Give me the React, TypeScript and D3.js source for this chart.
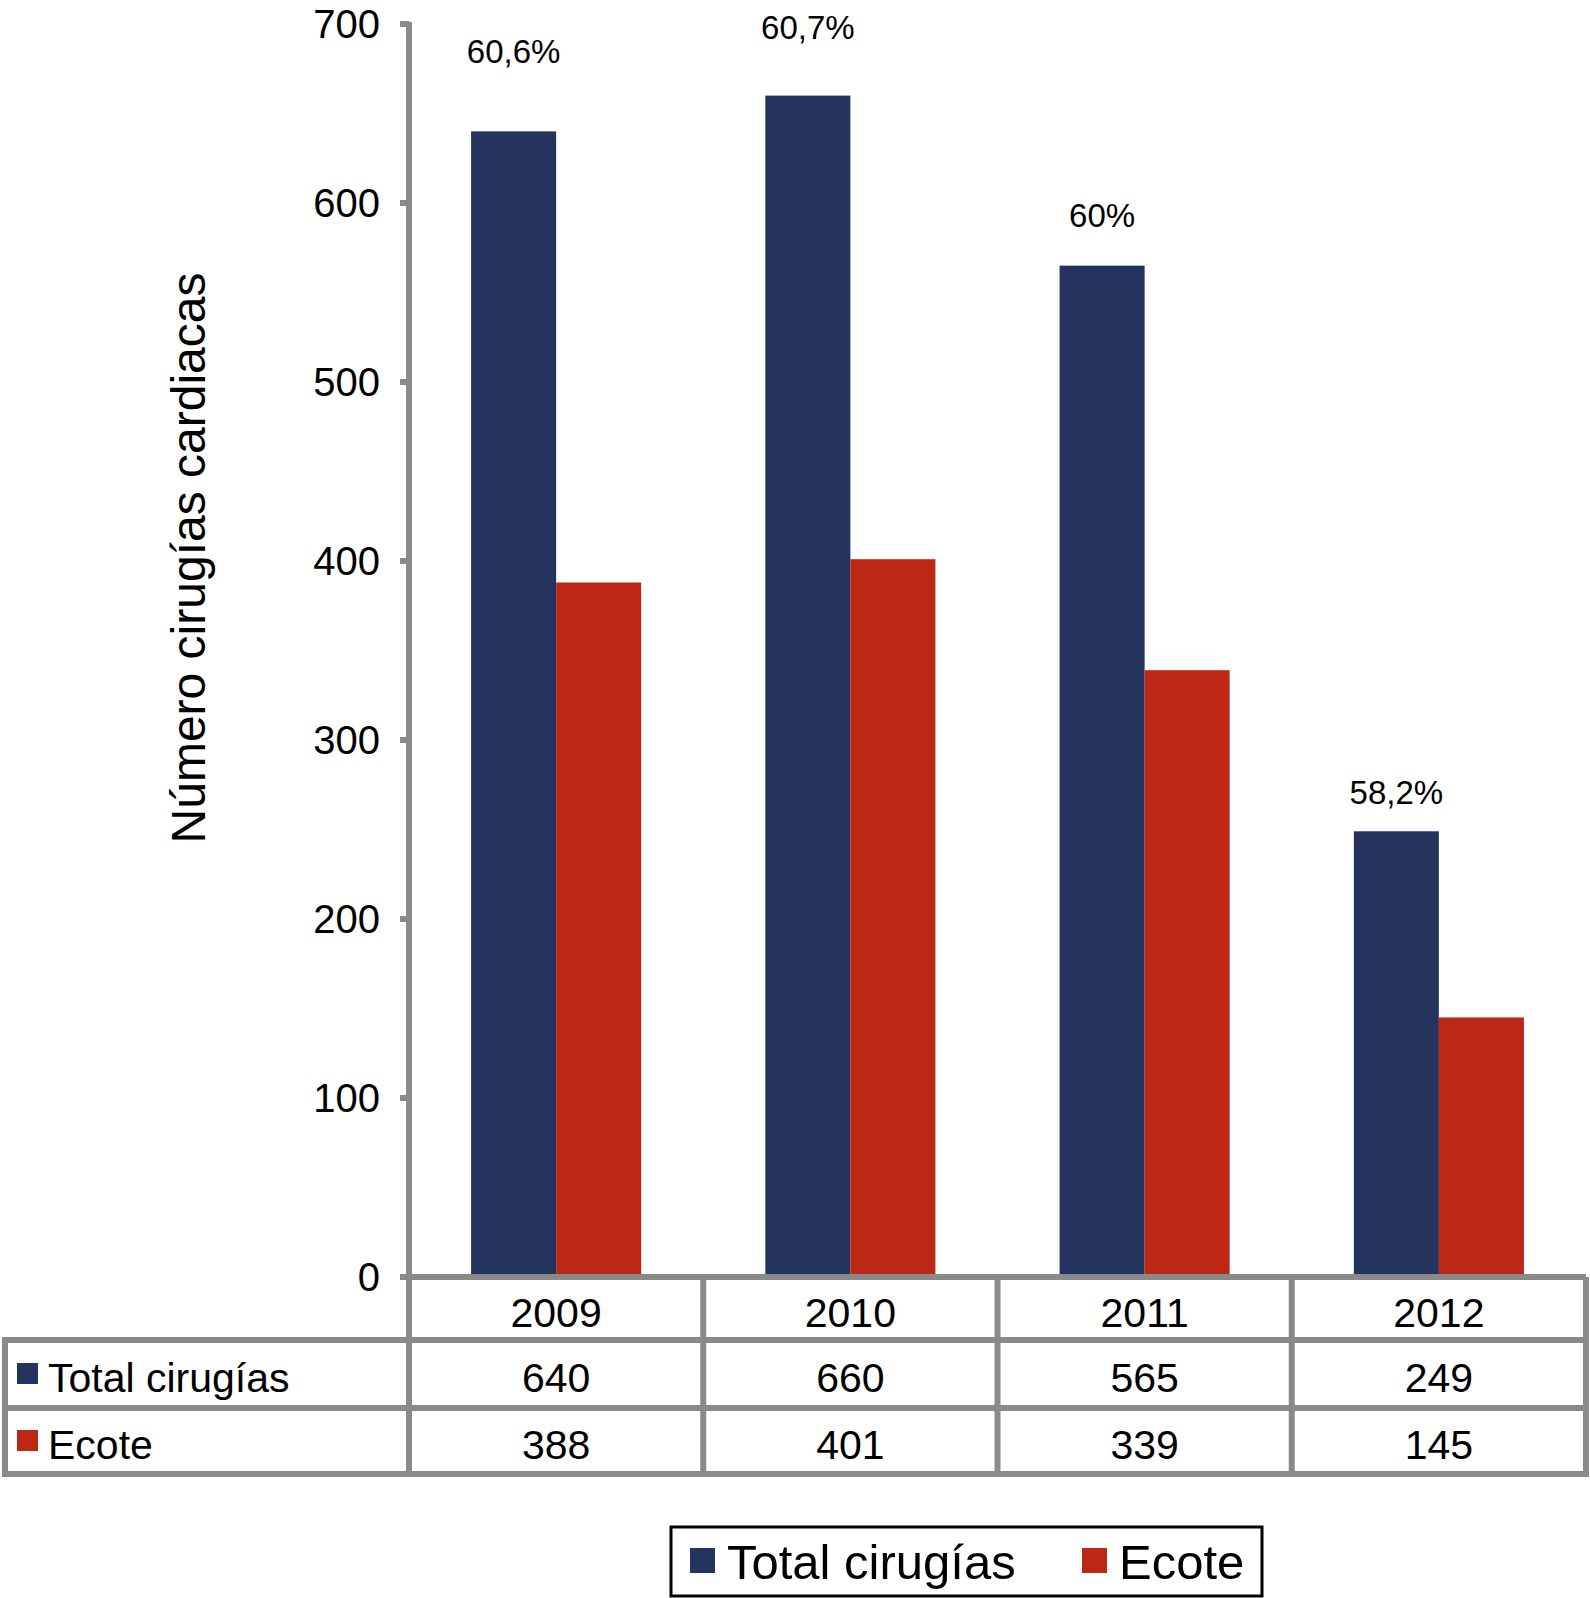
import * as d3 from 'd3';

const years = ['2009', '2010', '2011', '2012'];
const totalCirugias = [640, 660, 565, 249];
const ecote = [388, 401, 339, 145];
const pctLabels = ['60,6%', '60,7%', '60%', '58,2%'];
// value (on the y scale) where each percentage label sits
const pctLabelAt = [685, 698, 593, 271];
const yTicks = [0, 100, 200, 300, 400, 500, 600, 700];
const seriesKeys = ['total', 'ecote'];
const seriesNames = ['Total cirugías', 'Ecote'];

const W = 1590;
const H = 1598;
const axisX = 409;
const plotRight = 1586;
const tableLeft = 5;
const rowY = [1277, 1340, 1408, 1474];

const NAVY = '#24345e';
const RED = '#bd2814';
const GRID = '#8a8a8a';
const FONT = '"Liberation Sans", Arial, Helvetica, sans-serif';

const colors = [NAVY, RED];

export default function App() {
  const y = d3.scaleLinear().domain([0, 700]).range([1277, 24]);
  const x0 = d3.scaleBand().domain(years).range([axisX, plotRight]).padding(0);
  const x1 = d3
    .scaleBand()
    .domain(seriesKeys)
    .range([0, x0.step()])
    .paddingInner(0)
    .paddingOuter(0.73);

  const series = [totalCirugias, ecote];
  const colLines = years.map((yr) => x0(yr)!).concat([plotRight]);

  return (
    <div style={{ position: 'absolute', left: 0, top: 0 }}>
      <svg width={W} height={H} style={{ fontFamily: FONT, display: 'block' }}>
        <rect width={W} height={H} fill="#fff" />

        {/* bars */}
        {years.map((yr, i) => (
          <g key={yr} transform={`translate(${x0(yr)},0)`}>
            {seriesKeys.map((k, s) => (
              <rect
                key={k}
                x={x1(k)}
                y={y(series[s][i])}
                width={x1.bandwidth()}
                height={y(0) - y(series[s][i])}
                fill={colors[s]}
              />
            ))}
            <text
              x={x1('total')! + x1.bandwidth() / 2}
              y={y(pctLabelAt[i])}
              dy="0.36em"
              textAnchor="middle"
              fontSize={33}
              fill="#000"
            >
              {pctLabels[i]}
            </text>
          </g>
        ))}

        {/* y axis */}
        <line x1={axisX} x2={axisX} y1={y(700) - 2} y2={rowY[3]} stroke={GRID} strokeWidth={6} />
        {yTicks.map((t) => (
          <g key={t}>
            <line x1={axisX - 9} x2={axisX} y1={y(t)} y2={y(t)} stroke={GRID} strokeWidth={6} />
            <text x={380} y={y(t)} dy="0.36em" textAnchor="end" fontSize={40} fill="#000">
              {t}
            </text>
          </g>
        ))}
        <text
          transform={`translate(205,558) rotate(-90)`}
          textAnchor="middle"
          fontSize={48}
          fill="#000"
        >
          Número cirugías cardiacas
        </text>

        {/* data table */}
        <line x1={axisX - 9} x2={plotRight} y1={rowY[0]} y2={rowY[0]} stroke={GRID} strokeWidth={6} />
        {[1, 2, 3].map((r) => (
          <line
            key={r}
            x1={tableLeft - 3}
            x2={plotRight + 3}
            y1={rowY[r]}
            y2={rowY[r]}
            stroke={GRID}
            strokeWidth={6}
          />
        ))}
        <line x1={tableLeft} x2={tableLeft} y1={rowY[1]} y2={rowY[3]} stroke={GRID} strokeWidth={6} />
        {colLines.slice(1).map((cx, i) => (
          <line key={i} x1={cx} x2={cx} y1={rowY[0]} y2={rowY[3] + 3} stroke={GRID} strokeWidth={6} />
        ))}
        {years.map((yr) => (
          <text
            key={yr}
            x={x0(yr)! + x0.bandwidth() / 2}
            y={(rowY[0] + rowY[1]) / 2 + 4}
            dy="0.36em"
            textAnchor="middle"
            fontSize={41}
          >
            {yr}
          </text>
        ))}
        {series.map((vals, s) => {
          const cy = (rowY[s + 1] + rowY[s + 2]) / 2 + 3;
          return (
            <g key={s}>
              <rect x={17} y={cy - 14} width={21} height={21} fill={colors[s]} />
              <text x={48} y={cy} dy="0.36em" fontSize={41}>
                {seriesNames[s]}
              </text>
              {years.map((yr, i) => (
                <text
                  key={yr}
                  x={x0(yr)! + x0.bandwidth() / 2}
                  y={cy}
                  dy="0.36em"
                  textAnchor="middle"
                  fontSize={41}
                >
                  {vals[i]}
                </text>
              ))}
            </g>
          );
        })}

        {/* legend */}
        <rect x={671} y={1527} width={591} height={69} fill="none" stroke="#000" strokeWidth={3} />
        {seriesNames.map((name, s) => {
          const lx = s === 0 ? 690 : 1082;
          return (
            <g key={name}>
              <rect x={lx} y={1548} width={25} height={25} fill={colors[s]} />
              <text x={lx + 37} y={1561} dy="0.36em" fontSize={49}>
                {name}
              </text>
            </g>
          );
        })}
      </svg>
    </div>
  );
}
